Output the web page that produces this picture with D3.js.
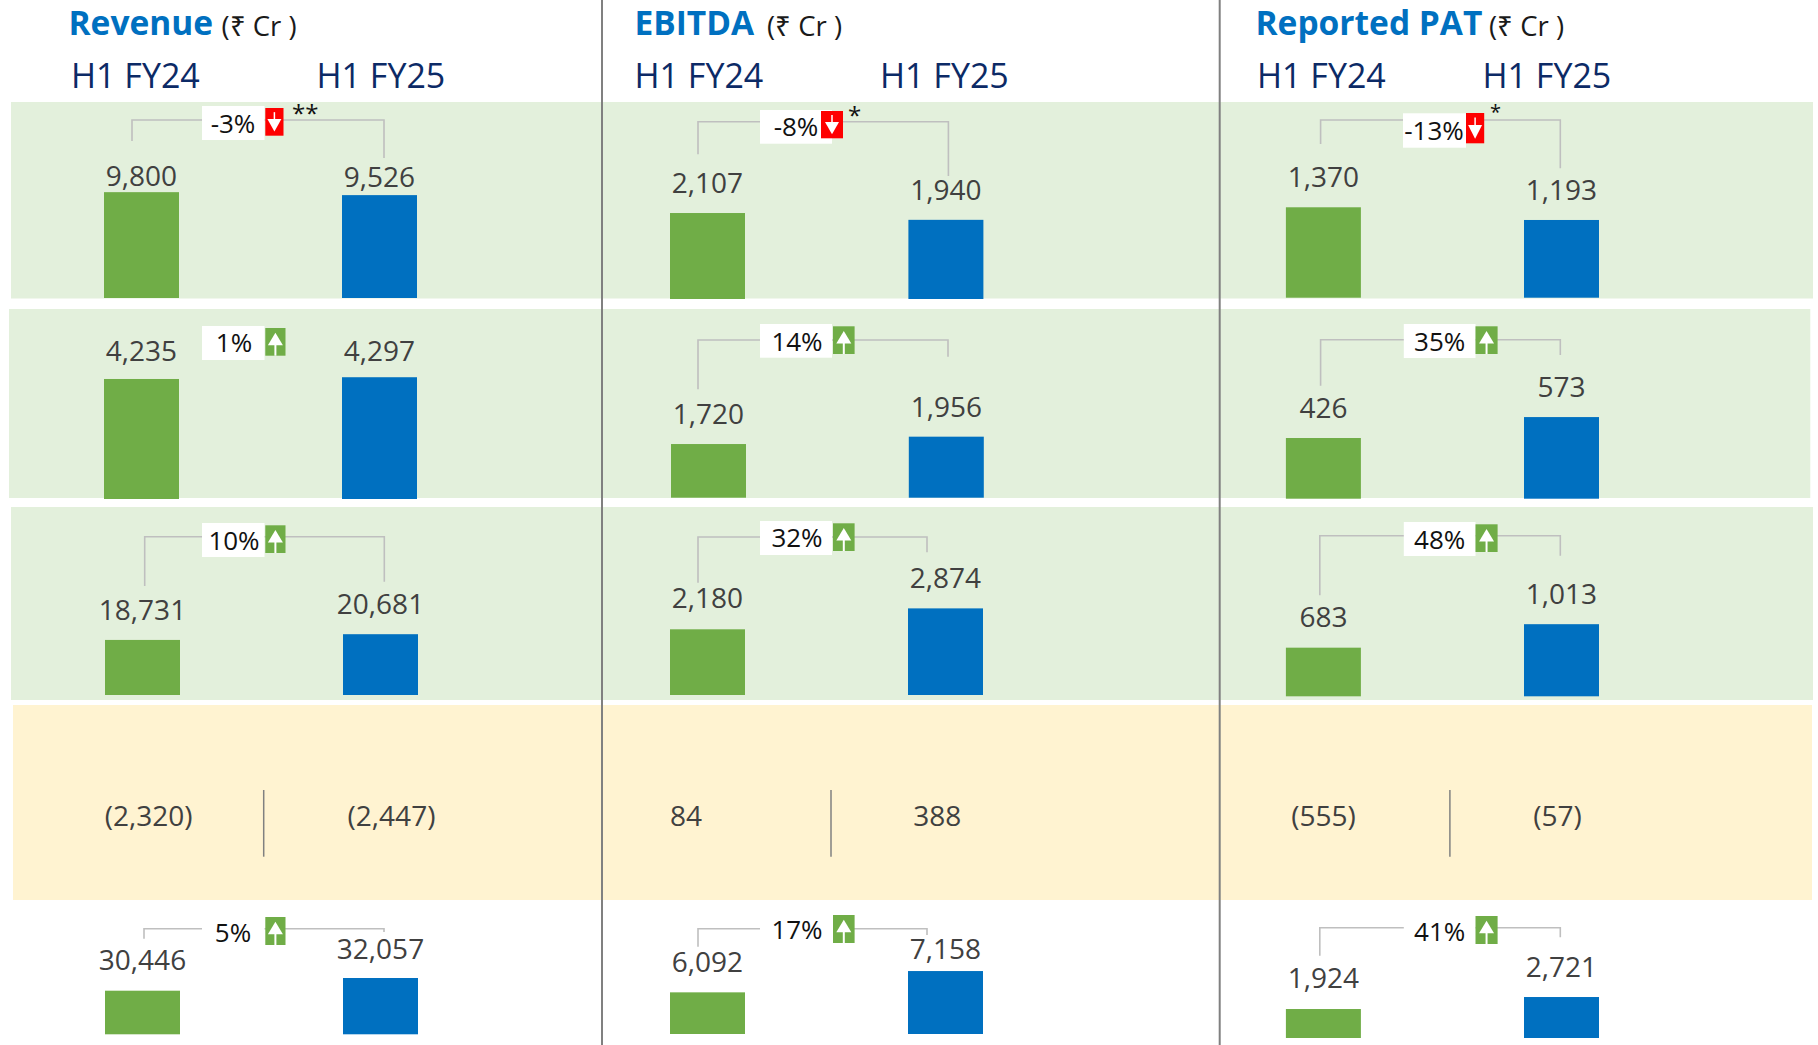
<!DOCTYPE html>
<html><head><meta charset="utf-8">
<script src="https://cdn.jsdelivr.net/npm/d3@7/dist/d3.min.js"></script>
<style>html,body{margin:0;padding:0;background:#fff;overflow:hidden}svg{display:block}text{font-family:"Open Sans",sans-serif}</style>
</head><body><svg id="c" width="1818" height="1045"></svg>
<script>
// ---- data ----
const metrics = ["Revenue","EBITDA","Reported PAT"];
const unitLabel = "(₹ Cr )";
const periods = ["H1 FY24","H1 FY25"];
const revenueFY24 = [9800,4235,18731,-2320,30446];
const revenueFY25 = [9526,4297,20681,-2447,32057];
const ebitdaFY24  = [2107,1720,2180,84,6092];
const ebitdaFY25  = [1940,1956,2874,388,7158];
const patFY24     = [1370,426,683,-555,1924];
const patFY25     = [1193,573,1013,-57,2721];
const revenueChange = [-3,1,10,null,5];
const ebitdaChange  = [-8,14,32,null,17];
const patChange     = [-13,35,48,null,41];
const revenueNote = ["**","","","",""];
const ebitdaNote  = ["*","","","",""];
const patNote     = ["*","","","",""];
const series = [
  {a:revenueFY24,b:revenueFY25,c:revenueChange,n:revenueNote},
  {a:ebitdaFY24,b:ebitdaFY25,c:ebitdaChange,n:ebitdaNote},
  {a:patFY24,b:patFY25,c:patChange,n:patNote}
];
// value domains of each small bar scale [min,max], per metric then row (row 3 has no bars)
const domains = [
  [[0,13889],[0,5293],[0,51020],null,[24913,43949]],
  [[0,3676],[0,4808],[0,4977],null,[4007,11515]],
  [[109,2201],[0,1053],[0,2107],null,[0,9960]]
];

// ---- layout ----
const C = {green:"#70ad47",blue:"#0070c0",band:"#e3f0dc",yellow:"#fff3d1",line:"#bfbfbf",div:"#808080",
  navy:"#0c2a66",val:"#404040"};
const BAR_W=75, SCALE_H=150;
const bands=[[11,102,1813,298.5],[9,309,1810.3,498],[11,507,1813,700]];
const yellowBand=[13,705,1812,900];
const dividers=[602,1219.7];
const head=[
 {x:68.5,sx:221.5,p:[71,316.5]},
 {x:634.5,sx:767,p:[634.5,880]},
 {x:1255.5,sx:1489,p:[1257,1482.5]}
];
const rowCentre=[[148.7,391.5,263.7],[686,937.3,831],[1323.4,1557.5,1449.9]];
// per metric/row: bar x pair, base y, value-label gaps, bracket [hy,lx,lb,rx,rb], box [x0,x1,y0,y1], text [cx,base], arrow [x0,x1,y0,y1], note[x,base,size]
const L=[
 [
  {x:[104,342],base:298,gap:[6,8.6],br:[120,132,141,384,158],box:[202,264.5,106,140],tx:[233,132.7],ar:[265.3,283.5,108,135.7],note:[292,122,24]},
  {x:[104,342],base:499,gap:[18,16],br:null,box:[202,264.5,326,360],tx:[234,352.3],ar:[265.3,285.5,328,355.7]},
  {x:[105,343],base:695,gap:[20,20],br:[536.7,144.7,586,384.3,581.7],box:[202,264.5,523,557],tx:[234,550],ar:[265.3,285.5,525.3,553]},
  null,
  {x:[105,343],base:1034.3,gap:[21,19],br:[928.7,144,938.7,384,932],box:[202,264.5,915,947],tx:[233,941.7],ar:[265.3,285.5,917,945]}
 ],[
  {x:[670,908.4],base:299,gap:[20,20],br:[121.7,698,154.3,948.4,176],box:[760,832,110,143.7],tx:[796,136],ar:[821,843,111,138.3],note:[848,124,24]},
  {x:[671,908.8],base:497.7,gap:[20,20],br:[340,698,389.3,948,356.7],box:[760,832,324,357.7],tx:[797,350.7],ar:[833,854.6,326.3,354]},
  {x:[670,908],base:695,gap:[21,20],br:[537,698,582.7,927,552.3],box:[760,832,521,555],tx:[797,547.3],ar:[833,854.6,523.3,551]},
  null,
  {x:[670,908],base:1034,gap:[20,12],br:[928.7,698,946.7,927,935],box:[760,833,913,945],tx:[797,939.3],ar:[833,854.6,915,943]}
 ],[
  {x:[1285.9,1524],base:297.7,gap:[20,20],br:[120,1320.6,144,1560.3,168.3],box:[1403,1466,113.3,147.7],tx:[1434,140],ar:[1466,1484.2,113,143.3],note:[1490,119.3,20]},
  {x:[1285.9,1524],base:498.7,gap:[20,20],br:[339.7,1320.6,385.7,1560.3,355],box:[1403.8,1475.5,324,358],tx:[1439.7,350.7],ar:[1475.5,1497.6,326.3,354]},
  {x:[1285.9,1524],base:696.3,gap:[21,20],br:[535.7,1319.8,595.3,1560.3,555.7],box:[1403.8,1475.5,522,556],tx:[1439.7,548.7],ar:[1475.5,1497.6,524.3,552]},
  null,
  {x:[1285.9,1524],base:1038,gap:[21,20],br:[927.7,1319.8,955.7,1560.3,937.3],box:[1403.8,1475.5,914,946],tx:[1439.7,940.7],ar:[1475.5,1497.6,916,944]}
 ]
];

// ---- draw ----
const svg=d3.select("#c");
const fmt=d3.format(",");
const fmtRow=v=>v<0?"("+fmt(-v)+")":fmt(v);

svg.selectAll("rect.band").data(bands).join("rect").attr("class","band")
  .attr("x",d=>d[0]).attr("y",d=>d[1]).attr("width",d=>d[2]-d[0]).attr("height",d=>d[3]-d[1]).attr("fill",C.band);
svg.append("rect").attr("x",yellowBand[0]).attr("y",yellowBand[1]).attr("width",yellowBand[2]-yellowBand[0])
  .attr("height",yellowBand[3]-yellowBand[1]).attr("fill",C.yellow);

metrics.forEach((m,i)=>{
  const h=head[i], s=series[i];
  svg.append("text").attr("x",h.x).attr("y",35).attr("font-size",33.5).attr("font-weight",700)
    .attr("fill",C.blue).text(m);
  svg.append("text").attr("x",h.sx).attr("y",35.5).attr("font-size",27.5).attr("fill","#1a1a1a").text(unitLabel);
  periods.forEach((p,k)=>svg.append("text").attr("x",h.p[k]).attr("y",87.7).attr("font-size",34)
    .attr("fill",C.navy).text(p));

  s.a.forEach((va,r)=>{
    const vb=s.b[r], l=L[i][r];
    if(!l){ // highlighted text-only row
      const rc=rowCentre[i];
      [[va,rc[0]],[vb,rc[1]]].forEach(([v,x])=>svg.append("text").attr("x",x).attr("y",826)
        .attr("text-anchor","middle").attr("font-size",28).attr("fill",C.val).text(fmtRow(v)));
      svg.append("line").attr("x1",rc[2]).attr("x2",rc[2]).attr("y1",790).attr("y2",856.7)
        .attr("stroke",C.div).attr("stroke-width",1.5);
      return;
    }
    const y=d3.scaleLinear().domain(domains[i][r]).range([l.base,l.base-SCALE_H]);
    const x=d3.scaleOrdinal(periods,l.x);
    const col=d3.scaleOrdinal(periods,[C.green,C.blue]);
    const g=svg.append("g");
    const rows=[{p:periods[0],v:va,gap:l.gap[0]},{p:periods[1],v:vb,gap:l.gap[1]}];
    g.selectAll("rect").data(rows).join("rect")
      .attr("x",d=>x(d.p)).attr("y",d=>y(d.v)).attr("width",BAR_W).attr("height",d=>l.base-y(d.v)).attr("fill",d=>col(d.p));
    g.selectAll("text").data(rows).join("text")
      .attr("x",d=>x(d.p)+BAR_W/2).attr("y",d=>y(d.v)-d.gap).attr("text-anchor","middle")
      .attr("font-size",28).attr("fill",C.val).text(d=>fmt(d.v));
    // bracket
    if(l.br){
      const [hy,lx,lb,rx,rb]=l.br, p=d3.path();
      p.moveTo(lx,lb);p.lineTo(lx,hy);p.lineTo(rx,hy);p.lineTo(rx,rb);
      svg.append("path").attr("d",p.toString()).attr("fill","none").attr("stroke",C.line).attr("stroke-width",1.6);
    }
    // change badge
    const b=l.box;
    svg.append("rect").attr("x",b[0]).attr("y",b[2]).attr("width",b[1]-b[0]).attr("height",b[3]-b[2]).attr("fill","#fff");
    const ch=s.c[r], up=ch>=0, a=l.ar, w=a[1]-a[0], hh=a[3]-a[2], cx=(a[0]+a[1])/2;
    svg.append("rect").attr("x",a[0]).attr("y",a[2]).attr("width",w).attr("height",hh).attr("fill",up?C.green:"#fe0000");
    const t=d3.path();
    if(up){t.moveTo(cx,a[2]+hh*.17);t.lineTo(cx+7.5,a[2]+hh*.62);t.lineTo(cx-7.5,a[2]+hh*.62);t.closePath();}
    else{t.moveTo(cx,a[2]+hh*.85);t.lineTo(cx+7,a[2]+hh*.4);t.lineTo(cx-7,a[2]+hh*.4);t.closePath();}
    svg.append("path").attr("d",t.toString()).attr("fill","#fff");
    svg.append("line").attr("x1",cx).attr("x2",cx).attr("y1",up?a[2]+hh*.6:a[2]+hh*.15).attr("y2",up?a[3]:a[2]+hh*.42)
      .attr("stroke","#fff").attr("stroke-width",up?2:1.5);
    svg.append("text").attr("x",l.tx[0]).attr("y",l.tx[1]).attr("text-anchor","middle").attr("font-size",26)
      .attr("fill","#111").text(ch+"%");
    if(s.n[r]) svg.append("text").attr("x",l.note[0]).attr("y",l.note[1]).attr("font-size",l.note[2])
      .attr("fill","#111").text(s.n[r]);
  });
});
dividers.forEach(x=>svg.append("line").attr("x1",x).attr("x2",x).attr("y1",0).attr("y2",1045)
  .attr("stroke",C.div).attr("stroke-width",2));
</script></body></html>
